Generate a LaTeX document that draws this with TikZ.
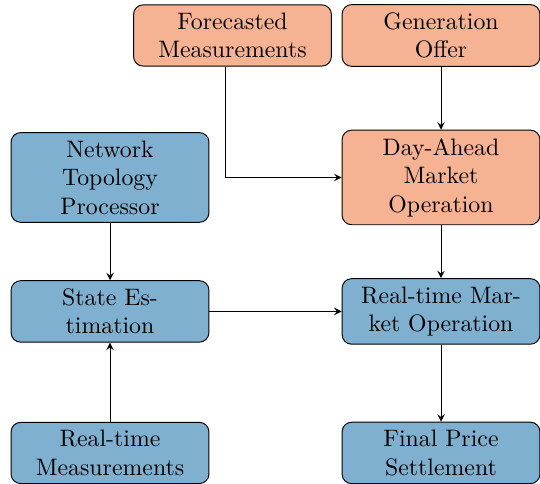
\documentclass[tikz,border=0pt]{standalone}
\usepackage{amsmath}
\usepackage{xcolor}
\usepackage{tikz}
\usetikzlibrary{arrows,positioning,shapes}

\definecolor{dayorange}{RGB}{245,179,148}
\definecolor{gridblue}{RGB}{127,176,208}

\begin{document}
\begin{tikzpicture}[>=stealth,
                        block/.style={draw, rounded corners=4pt, text width=2.5cm, inner xsep=6pt, align=center, text=black},
                        market/.style={block, fill=dayorange},
                        grid/.style={block, fill=gridblue}]
                        \useasboundingbox (-1.625, -0.458) rectangle (6.351, 6.690);
                        \node[market] (fc) at (1.809, 6.166) {Forecasted Measurements};
                        \node[market] (go) at (4.889, 6.166) {Generation Offer};
                        \node[grid] (ntp) at (0, 4.069) {Network Topology Processor};
                        \node[market] (da) at (4.889, 4.069) {Day-Ahead Market Operation};
                        \node[grid] (se) at (0, 2.090) {State Estimation};
                        \node[grid] (rtmo) at (4.889, 2.090) {Real-time Mar-\\ket Operation};
                        \node[grid] (rtm) at (0, 0) {Real-time Measurements};
                        \node[grid] (fps) at (4.889, 0) {Final Price Settlement};
                        \draw [->] ([xshift=-0.11cm]fc.south) |- (da.west);
                        \draw [->] (go) -- (da);
                        \draw [->] (ntp) -- (se);
                        \draw [->] (rtm) -- (se);
                        \draw [->] (se) -- (rtmo);
                        \draw [->] (da) -- (rtmo);
                        \draw [->] (rtmo) -- (fps);
                        \end{tikzpicture}
\end{document}
